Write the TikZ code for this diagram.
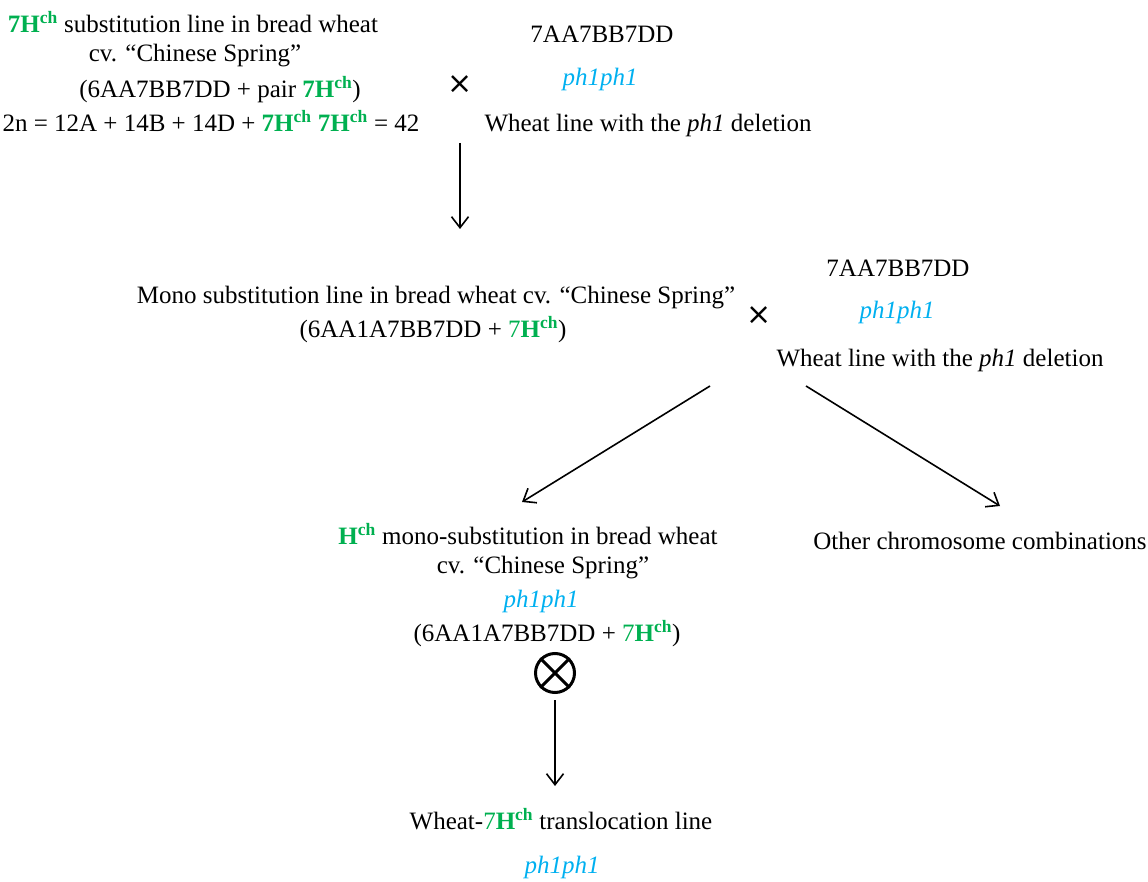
\documentclass[tikz,border=0pt]{standalone}
\usepackage{fontspec}
\setmainfont{Liberation Serif}
\newfontfamily\djv{DejaVu Sans}
\usetikzlibrary{arrows.meta}
\definecolor{hgreen}{HTML}{00B050}
\definecolor{pblue}{HTML}{00B0F0}
\newcommand{\hchb}{\textcolor{hgreen}{\textbf{7H\textsuperscript{ch}}}}
\newcommand{\hchr}{\textcolor{hgreen}{7\textbf{H\textsuperscript{ch}}}}
\newcommand{\hcho}{\textcolor{hgreen}{\textbf{H\textsuperscript{ch}}}}
\newcommand{\phph}{\textcolor{pblue}{\textit{ph1ph1}}}
\begin{document}
\begin{tikzpicture}[x=1pt,y=-1pt,
  txt/.style={inner sep=0pt,anchor=center,font=\fontsize{25}{29}\selectfont},
  crossmark/.style={inner sep=0pt,font=\djv\fontsize{30}{30}\selectfont},
  arr/.style={line width=1.6pt,-{Straight Barb[length=11pt,width=17pt,line width=1.6pt]}}]
\useasboundingbox (0,0) rectangle (1148,882);
% top left block
\node[txt] (t1) at (193,22) {\hchb{} substitution line in bread wheat};
\node[txt] (t2) at (195,56) {cv. “Chinese Spring”};
\node[txt] (t3) at (220,90) {(6AA7BB7DD + pair \hchb)};
\node[txt] (t4) at (211,121) {2n = 12A + 14B + 14D + \hchb{} \hchb{} = 42};
\node[crossmark] (x1) at (460,85) {×};
\node[txt] (w1) at (602,34) {7AA7BB7DD};
\node[txt] (w2) at (600,79) {\phph};
\node[txt] (w3) at (648,125) {Wheat line with the \textit{ph1} deletion};
% mono block
\node[txt] (m1) at (436,298) {Mono substitution line in bread wheat cv. “Chinese Spring”};
\node[txt] (m2) at (433,330) {(6AA1A7BB7DD + \hchr)};
\node[crossmark] (x2) at (759,316) {×};
\node[txt] (v1) at (898,268) {7AA7BB7DD};
\node[txt] (v2) at (897,312) {\phph};
\node[txt] (v3) at (940,360) {Wheat line with the \textit{ph1} deletion};
% H block
\node[txt] (h1) at (528,534) {\hcho{} mono-substitution in bread wheat};
\node[txt] (h2) at (543,568) {cv. “Chinese Spring”};
\node[txt] (h3) at (541,601) {\phph};
\node[txt] (h4) at (547,634) {(6AA1A7BB7DD + \hchr)};
\node[txt] (oc) at (980,541) {Other chromosome combinations};
\node[circle,draw,line width=3pt,minimum size=39pt,inner sep=0pt] (o) at (555,673) {};
\draw[line width=3pt] (o.45) -- (o.225) (o.135) -- (o.315);
% final
\node[txt] (f1) at (561,819) {Wheat-\hchr{} translocation line};
\node[txt] (f2) at (562,867) {\phph};
% arrows
\coordinate (a1s) at (460,143); \coordinate (a1e) at (460,229);
\coordinate (a2s) at (710,386); \coordinate (a2e) at (522,502);
\coordinate (a3s) at (806,386); \coordinate (a3e) at (1000,506);
\coordinate (a4e) at (555,786);
\draw[arr] (a1s) -- (a1e);
\draw[arr] (a2s) -- (a2e);
\draw[arr] (a3s) -- (a3e);
\draw[arr] (o.south) ++(0,6) -- (a4e);
\end{tikzpicture}
\end{document}
